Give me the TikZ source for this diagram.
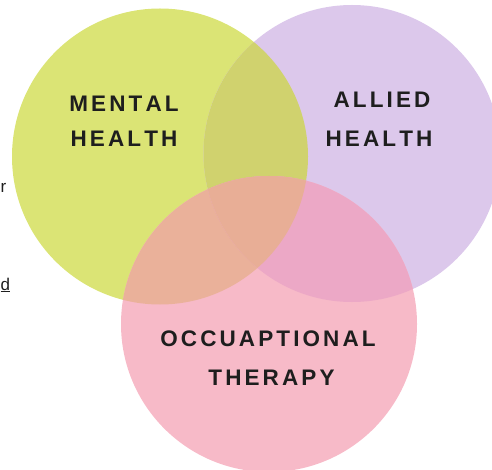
\documentclass[tikz,border=0pt]{standalone}
\usepackage{fontspec}
\setmainfont{Liberation Sans}
\definecolor{cgreen}{HTML}{DBE475}
\definecolor{cpurple}{HTML}{DCC8EB}
\definecolor{cpink}{HTML}{F7BAC8}
\definecolor{cgp}{HTML}{D0D26E}
\definecolor{cgk}{HTML}{EAB19A}
\definecolor{cpk}{HTML}{ECA8C6}
\definecolor{cgpk}{HTML}{E8AE96}
\definecolor{ctext}{HTML}{1E1E1E}
\newdimen\trkamt \trkamt=3.1pt
\def\spc#1{\spcA#1\relax\kern-\trkamt}
\def\spcA#1{\ifx#1\relax\else#1\kern\trkamt\expandafter\spcA\fi}
\tikzset{
  lbl/.style={font=\fontsize{22.5pt}{22.5pt}\selectfont\bfseries, text=ctext, inner sep=0pt, anchor=base},
  edge/.style={font=\fontsize{17pt}{17pt}\selectfont, text=ctext, inner sep=0pt, anchor=base west}
}
\begin{document}
\begin{tikzpicture}[x=1pt,y=-1pt]
\useasboundingbox (0,0) rectangle (492,470);
\clip (0,0) rectangle (492,470);
\def\G{(160,156.5) circle[radius=148]}
\def\P{(352,153.5) circle[radius=148.5]}
\def\K{(269,324) circle[radius=148]}
\fill[cgreen] \G;
\fill[cpurple] \P;
\fill[cpink] \K;
\begin{scope}\clip \G; \fill[cgp] \P; \end{scope}
\begin{scope}\clip \G; \fill[cgk] \K; \end{scope}
\begin{scope}\clip \P; \fill[cpk] \K; \end{scope}
\begin{scope}\clip \G; \clip \P; \fill[cgpk] \K; \end{scope}
\node[lbl] (m1) at (124,112) {\spc{MENTAL}};
\node[lbl] (m2) at (124,147) {\spc{HEALTH}};
\node[lbl] (a1) at (382,108) {\spc{ALLIED}};
\node[lbl] (a2) at (379,147) {\spc{HEALTH}};
\node[lbl] (o1) at (268,346) {\spc{OCCUAPTIONAL}};
\node[lbl] (o2) at (271.5,385) {\spc{THERAPY}};
\node[edge] (r) at (0.5,193) {r};
\node[edge] (d) at (0.5,290) {\underline{d}};
\end{tikzpicture}
\end{document}
